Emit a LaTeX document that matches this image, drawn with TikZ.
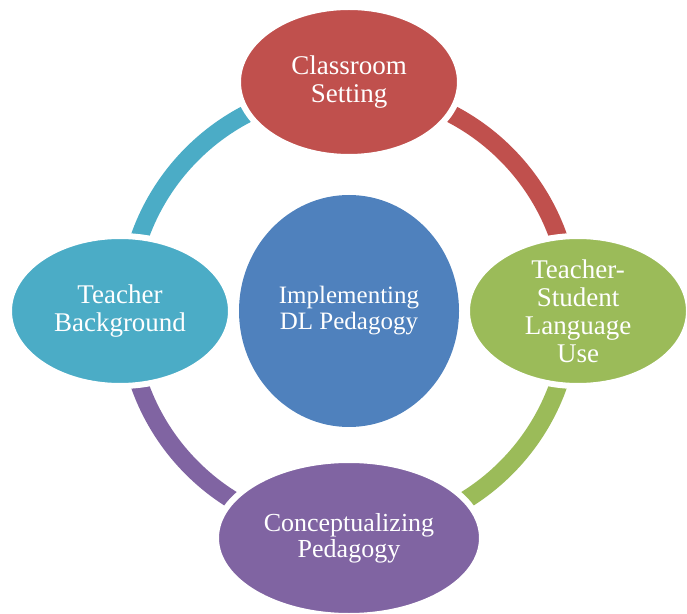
\documentclass[tikz,border=0pt]{standalone}
\usepackage{fontspec}
\setmainfont{Liberation Serif}
\usepackage{tikz}

\definecolor{cRed}{HTML}{C0504D}
\definecolor{cGreen}{HTML}{9BBB59}
\definecolor{cPurple}{HTML}{8064A2}
\definecolor{cTeal}{HTML}{4BACC6}
\definecolor{cBlue}{HTML}{4F81BD}

\begin{document}
\begin{tikzpicture}[x=1pt,y=1pt,
        band/.style={line width=18pt},
        bubble/.style={draw=white,line width=6pt},
        lbl/.style={text=white,align=center,font=\fontsize{27}{28}\selectfont}]
        \useasboundingbox (0,0) rectangle (687,613);

        \coordinate (C) at (349,302);
        \coordinate (T) at (349,531);
        \coordinate (R) at (578,302);
        \coordinate (B) at (349,75);
        \coordinate (L) at (120,302);

        % ring between the bubbles
        \foreach \a/\col in {90/cRed,0/cGreen,-90/cPurple,180/cTeal}
            \draw[band,\col] ([shift={(\a:222)}]C) arc[start angle=\a,delta angle=-90,radius=222];

        \fill[cBlue] (C) ellipse(110 and 116);
        \filldraw[bubble,fill=cRed] (T) ellipse(111 and 75);
        \filldraw[bubble,fill=cGreen] (R) ellipse(111 and 75);
        \filldraw[bubble,fill=cPurple] (B) ellipse(133 and 78);
        \filldraw[bubble,fill=cTeal] (L) ellipse(111 and 75);

        \node[lbl,font=\fontsize{25}{26}\selectfont] (dl) at (C) {Implementing\\DL Pedagogy};
        \node[lbl] (setting) at (T) {Classroom\\Setting};
        \node[lbl] (lang) at (R) {Teacher-\\Student\\Language\\Use};
        \node[lbl,font=\fontsize{26}{26}\selectfont] (concept) at (B) {Conceptualizing\\Pedagogy};
        \node[lbl] (backgr) at (L) {Teacher\\Background};
    \end{tikzpicture}
\end{document}
